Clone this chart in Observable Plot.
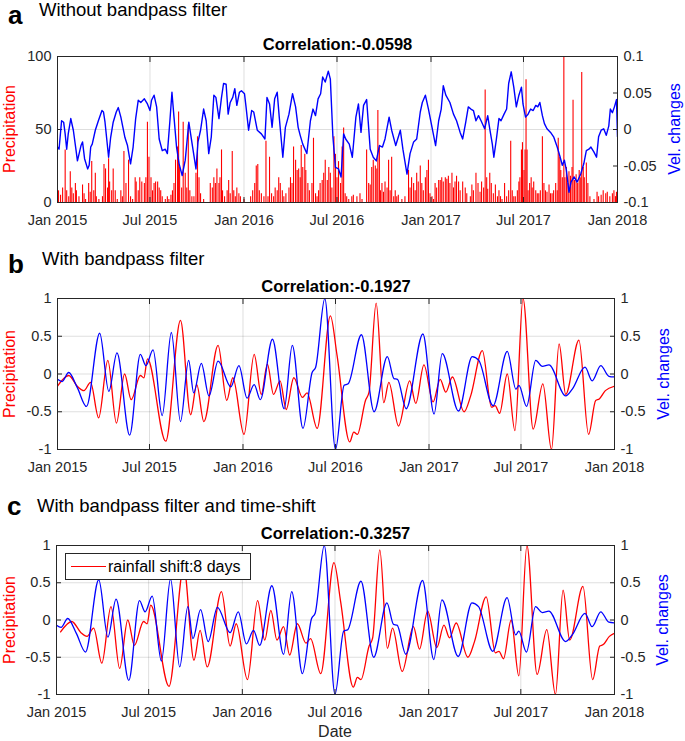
<!DOCTYPE html>
<html><head><meta charset="utf-8">
<script src="https://cdn.jsdelivr.net/npm/d3@7"></script>
<script src="https://cdn.jsdelivr.net/npm/@observablehq/plot@0.6"></script>
<style>
body{margin:0;background:#fff;}
#wrap{position:relative;width:685px;height:741px;overflow:hidden;background:#fff;font-family:"Liberation Sans",Arial,Helvetica,sans-serif;color:#262626;}
.abs{position:absolute;white-space:nowrap;line-height:1;}
.layer{position:absolute;left:0;}
.layer svg{display:block;}
.ylab{position:absolute;font-size:16px;line-height:1;white-space:nowrap;transform:translate(-50%,-50%) rotate(-90deg);}
.legend{position:absolute;background:#fff;border:1px solid #262626;box-sizing:border-box;}
</style></head><body><div id="wrap"></div>
<script>
// ---------- tick labels ----------
const xTickDates = ["2015-01-01","2015-07-01","2016-01-01","2016-07-01","2017-01-01","2017-07-01","2018-01-01"];
const xTickLabels = ["Jan 2015","Jul 2015","Jan 2016","Jul 2016","Jan 2017","Jul 2017","Jan 2018"];
const rainTicksA = [0, 50, 100];
const rainTickLabelsA = ["0", "50", "100"];
const velTicksA = [-0.1, -0.05, 0, 0.05, 0.1];
const velTickLabelsA = ["-0.1", "-0.05", "0", "0.05", "0.1"];
const bpTicks = [-1, -0.5, 0, 0.5, 1];
const bpTickLabels = ["-1", "-0.5", "0", "0.5", "1"];

// ---------- titles ----------
const panelLetters = ["a", "b", "c"];
const panelTitles = ["Without bandpass filter", "With bandpass filter", "With bandpass filter and time-shift"];
const correlations = ["Correlation:-0.0598", "Correlation:-0.1927", "Correlation:-0.3257"];
const rainShiftDays = 8;
const legendText = "rainfall shift:8 days";

// ---------- panel a: daily precipitation (day index since 2015-01-01, mm) ----------
const rainDay = [2,6,10,15,18,22,25,28,31,35,37,42,49,52,55,61,64,67,71,74,76,81,88,91,94,98,100,102,106,109,113,117,124,127,130,134,139,143,147,152,154,158,161,165,170,173,176,179,183,186,189,192,196,199,202,205,211,215,218,222,225,228,231,235,237,239,243,246,250,253,256,259,263,267,271,274,277,280,
286,299,303,306,309,312,316,318,321,323,327,332,335,338,342,345,348,351,355,358,365,378,382,386,389,392,395,399,404,408,412,415,419,423,426,430,433,436,440,443,447,453,456,459,462,466,469,472,475,477,480,484,486,490,493,498,501,505,508,511,514,518,521,524,528,531,534,537,541,544,547,550,554,557,560,
563,566,570,576,579,586,592,596,605,609,612,615,618,622,625,627,630,632,635,638,641,645,648,651,654,658,661,664,667,674,680,687,690,693,697,700,703,706,710,713,716,720,723,726,729,733,736,739,742,746,749,752,755,759,762,765,768,772,775,778,781,785,788,793,798,801,808,811,814,819,823,827,830,834,837,840,
842,846,849,853,857,861,864,867,870,875,879,883,887,890,893,896,900,903,905,908,910,913,915,917,919,921,924,927,929,932,936,939,942,945,949,952,955,958,962,965,968,971,975,978,980,983,985,988,991,993,996,999,1001,1004,1007,1009,1012,1015,1018,1021,1024,1026,1029,1031,1035,1038,1042,1050,1056,1059,1064,1068,1073,1076,1081,1086,1089,1092,1094];
const rainMm = [8,5,10,36,8,4,21,10,6,13,8,4,12,6,2,13,7,28,8,20,4,2,4,26,23,10,30,14,8,23,8,2,8,4,35,13,29,4,2,17,14,8,17,14,13,17,55,31,17,8,13,14,14,10,8,4,2,4,2,5,8,13,29,38,62,24,10,55,20,10,53,8,4,4,20,45,17,6,
2,13,10,17,13,23,13,17,36,8,4,8,15,6,35,8,4,10,6,4,2,4,8,13,25,26,8,6,4,42,4,31,6,4,10,8,17,13,8,4,6,10,17,13,38,29,22,23,17,39,24,33,22,13,8,13,44,6,4,8,13,15,20,29,15,24,20,10,45,33,17,28,13,38,51,
6,4,2,4,5,4,6,2,36,13,12,24,29,25,23,63,38,8,13,7,14,10,29,8,31,4,8,4,5,2,4,22,10,17,13,8,20,14,25,13,8,17,22,29,6,4,2,13,10,15,15,17,14,17,16,18,13,20,10,14,18,14,8,14,10,6,4,12,8,20,13,7,14,10,77,17,
9,20,13,6,12,4,8,4,2,13,4,8,42,8,4,4,8,14,17,36,41,22,36,84,36,8,13,17,10,14,8,6,6,8,45,13,8,7,12,6,6,8,13,8,44,31,22,17,100,17,24,13,21,18,24,70,15,19,13,22,17,89,24,17,27,13,4,2,7,4,5,8,6,7,4,6,8,4,7];

// ---------- panel a: velocity changes (day index, value) ----------
const velDay = [0,3,8,12,15,18,21,26,31,36,39,46,49,53,59,62,65,68,74,80,87,90,93,100,104,109,115,119,124,128,132,137,143,148,153,158,163,170,176,181,184,189,194,199,205,211,215,220,224,228,233,238,244,250,257,264,271,
275,280,286,291,296,301,306,310,316,321,325,330,334,338,343,347,351,356,360,366,369,374,380,384,391,399,406,410,415,420,425,430,434,441,446,453,460,466,471,475,480,488,495,500,505,510,515,519,524,530,534,539,544,550,555,
560,564,571,577,584,589,594,599,605,612,618,624,630,636,641,649,654,662,671,676,684,690,697,703,710,714,720,726,733,740,746,751,755,760,768,775,781,788,793,799,804,809,814,819,824,829,836,842,
846,851,854,859,864,868,874,879,883,888,893,898,903,908,911,916,921,926,931,936,940,944,949,953,958,965,971,978,983,988,992,996,1001,1005,1011,1017,1024,1030,1035,1040,1044,1050,1055,1059,1064,1069,1074,1079,1082,1086,1090,1094,1096];
const velChange = [-0.024,-0.027,0.012,0.010,-0.006,-0.027,-0.006,0.015,-0.001,-0.027,-0.043,-0.022,-0.017,-0.040,-0.054,-0.049,-0.024,-0.020,-0.001,0.012,0.026,0.024,0.010,-0.038,-0.011,0.010,0.024,0.030,0.017,0.003,-0.011,-0.022,-0.047,-0.024,0.015,0.040,0.037,0.042,0.035,0.026,0.040,0.047,0.031,-0.013,-0.029,-0.027,-0.033,0.012,0.051,0.017,-0.024,-0.047,-0.063,-0.042,0.010,-0.022,-0.054,
-0.017,-0.001,0.028,0.012,-0.033,-0.010,0.047,0.044,0.015,0.044,0.063,0.062,0.021,0.037,0.044,0.056,0.033,0.051,0.053,0.049,0.031,-0.001,0.026,0.024,-0.001,-0.006,-0.013,0.044,0.035,0.003,0.042,0.051,0.017,-0.038,0.003,0.021,0.049,0.031,0.003,-0.008,-0.020,-0.033,0.012,0.028,0.019,0.042,0.049,0.072,0.065,0.080,0.069,-0.010,-0.052,-0.054,-0.065,
-0.006,-0.013,-0.020,-0.038,0.017,0.035,-0.004,0.033,0.041,-0.027,-0.038,-0.043,-0.022,-0.024,-0.013,0.017,-0.001,-0.022,-0.001,-0.027,-0.061,-0.033,-0.017,-0.013,0.024,0.037,0.047,0.028,0.003,-0.022,0.012,0.028,0.060,0.047,0.037,0.021,0.012,-0.004,-0.013,0.010,0.031,0.028,0.026,0.012,0.019,0.012,0.001,0.019,
0.001,-0.020,-0.038,-0.013,0.015,0.012,0.021,0.028,0.063,0.079,0.058,0.031,0.047,0.058,0.035,0.017,0.021,0.028,0.026,0.033,0.031,0.037,0.019,0.008,0.001,-0.004,-0.010,-0.024,-0.036,-0.049,-0.042,-0.056,-0.086,-0.072,-0.065,-0.072,-0.061,-0.047,-0.029,-0.027,-0.024,-0.031,-0.038,-0.010,-0.001,0.001,-0.008,0.005,0.028,0.023,0.031,0.041,-0.010];

// ---------- panel b/c: band-pass filtered series (turning points) ----------
const bpRainDay = [0,22,40,52,65,81,99,116,132,145,163,170,177,213,242,262,274,288,316,333,345,367,387,401,413,425,438,450,465,482,491,511,537,550,575,583,590,606,613,627,642,652,671,693,705,721,739,753,764,777,800,813,836,854,861,870,885,900,916,936,955,972,987,1000,1026,1045,1059,1066,1078,1097];
const bpRain = [-0.16,-0.02,-0.17,-0.22,-0.11,-0.58,0.18,-0.65,0.0,-0.34,-0.02,-0.05,0.2,-0.89,0.71,-0.54,-0.14,-0.63,0.38,-0.35,-0.05,-0.8,0.26,-0.27,0.13,-0.27,-0.09,-0.47,-0.05,-0.31,-0.25,-0.72,0.77,0.25,-0.9,-0.77,-0.8,-0.35,-0.24,0.94,-0.38,-0.11,-0.69,-0.09,-0.39,0.12,-0.37,-0.07,-0.24,-0.04,-0.5,-0.29,0.31,-0.44,-0.42,-0.52,0.0,-0.75,1.0,-0.73,-0.13,-1.0,0.4,-0.27,0.45,-0.8,-0.35,-0.33,-0.22,-0.16];
const bpVelDay = [0,9,22,39,57,83,101,117,142,163,174,188,206,224,242,258,268,283,298,316,341,357,373,387,399,423,446,462,483,501,508,526,547,564,572,598,623,649,662,669,686,719,741,757,789,816,829,857,885,902,908,923,941,954,967,1000,1013,1038,1052,1069,1085,1097];
const bpVel = [-0.07,-0.1,0.02,-0.18,-0.43,0.54,-0.23,0.28,-0.81,0.26,0.11,0.32,-0.55,0.55,-0.63,0.18,-0.25,0.14,-0.29,0.17,-0.17,0.11,-0.32,-0.14,-0.34,0.46,-0.46,0.38,-0.72,0.02,0.09,1.0,-1.0,-0.15,-0.13,0.52,-0.5,0.23,-0.06,-0.07,-0.46,0.53,-0.53,0.27,-0.49,0.23,0.18,-0.42,0.3,-0.2,-0.15,-0.43,0.18,0.1,0.12,-0.29,-0.2,0.09,-0.09,0.11,-0.03,-0.04];

// ---------- helpers ----------
const day0 = Date.UTC(2015, 0, 1);
const toDate = d => new Date(day0 + d * 864e5);
const xDomain = [new Date(xTickDates[0]), new Date(xTickDates[xTickDates.length - 1])];
const xTicks = xTickDates.map(s => new Date(s));
const xFmt = d => xTickLabels[xTicks.findIndex(t => +t === +d)];
const fmtFrom = (ticks, labels) => d => labels[ticks.indexOf(d)];

const RED = "#ff0000", BLUE = "#0000ff", INK = "#262626";
const FONT = '"Liberation Sans", Arial, Helvetica, sans-serif';
const TICKFS = 14.5;
const wrap = document.getElementById("wrap");

const rain = rainDay.map((d, i) => ({date: toDate(d), mm: rainMm[i]}));
const vel = velDay.map((d, i) => ({date: toDate(d), v: velChange[i]}));
const bpR = bpRainDay.map((d, i) => ({date: toDate(d), v: bpRain[i]}));
const bpRshift = bpRainDay.map((d, i) => ({date: toDate(d + rainShiftDays), v: bpRain[i]}));
const bpV = bpVelDay.map((d, i) => ({date: toDate(d), v: bpVel[i]}));

function addLayer(svg, top) {
  const d = document.createElement("div");
  d.className = "layer";
  d.style.top = top + "px";
  d.appendChild(svg);
  wrap.appendChild(d);
}
function addText(txt, left, baseline, size, opts = {}) {
  const d = document.createElement("div");
  d.className = "abs";
  d.textContent = txt;
  d.style.fontSize = size + "px";
  d.style.left = left + "px";
  d.style.top = (baseline - 0.8465 * size) + "px";
  if (opts.bold) d.style.fontWeight = "bold";
  d.style.color = opts.color || "#000";
  if (opts.center) d.style.transform = "translateX(-50%)";
  wrap.appendChild(d);
}
function addYLabel(txt, cx, cy, color) {
  const d = document.createElement("div");
  d.className = "ylab";
  d.textContent = txt;
  d.style.left = cx + "px";
  d.style.top = cy + "px";
  d.style.color = color;
  wrap.appendChild(d);
}

function xAxisMarks() {
  return [
    Plot.axisX(xTicks, {anchor: "bottom", tickSize: 0, tickPadding: 12, tickFormat: xFmt, fontSize: TICKFS, fill: INK, label: null}),
    Plot.axisX(xTicks, {anchor: "bottom", fill: "none", stroke: INK, tickSize: 5, insetBottom: 5, label: null}),
    Plot.axisX(xTicks, {anchor: "top", fill: "none", stroke: INK, tickSize: 5, insetTop: 5, label: null})
  ];
}
function yAxisMarks(ticks, labels, anchor) {
  const inset = anchor === "left" ? {insetLeft: 5} : {insetRight: 5};
  return [
    Plot.axisY(ticks, {anchor, tickSize: 0, tickPadding: 6, tickFormat: fmtFrom(ticks, labels), fontSize: TICKFS, fill: INK, label: null}),
    Plot.axisY(ticks, {anchor, fill: "none", stroke: INK, tickSize: 5, ...inset, label: null})
  ];
}
const gridStyle = {stroke: "#000", strokeOpacity: 0.13};

// ---------- panel a ----------
{
  const top = 30, H = 200;
  const common = {width: 685, height: H, marginLeft: 57, marginRight: 68, marginTop: 26, marginBottom: 28,
    style: {fontFamily: FONT, background: "transparent", overflow: "visible"}};
  const p1 = Plot.plot({
    ...common,
    x: {type: "utc", domain: xDomain},
    y: {domain: [0, 100]},
    marks: [
      Plot.gridX(xTicks, gridStyle),
      Plot.gridY(rainTicksA, gridStyle),
      Plot.ruleX(rain, {x: "date", y1: 0, y2: "mm", stroke: RED, strokeWidth: 1.1}),
      ...xAxisMarks(),
      ...yAxisMarks(rainTicksA, rainTickLabelsA, "left"),
      Plot.text([correlations[0]], {frameAnchor: "top", dy: -7, lineAnchor: "bottom", fontWeight: "bold", fontSize: 16.5, fill: "#000"})
    ]
  });
  const p2 = Plot.plot({
    ...common,
    x: {type: "utc", domain: xDomain, axis: null},
    y: {domain: [-0.1, 0.1]},
    marks: [
      Plot.line(vel, {x: "date", y: "v", stroke: BLUE, strokeWidth: 1.4, clip: true}),
      ...yAxisMarks(velTicksA, velTickLabelsA, "right"),
      Plot.frame({stroke: INK})
    ]
  });
  addLayer(p1, top);
  addLayer(p2, top);
  addText(panelLetters[0], 8, 24, 26, {bold: true});
  addText(panelTitles[0], 39, 16.5, 18.5);
  addYLabel("Precipitation", 10, 129, RED);
  addYLabel("Vel. changes", 675, 129, BLUE);
}

function bandPanel(top, H, mTop, mBottom, mLeft, redData, corr) {
  return Plot.plot({
    width: 685, height: H, marginLeft: mLeft, marginRight: 71, marginTop: mTop, marginBottom: mBottom,
    x: {type: "utc", domain: xDomain},
    y: {domain: [-1, 1]},
    style: {fontFamily: FONT, background: "transparent", overflow: "visible"},
    marks: [
      Plot.gridX(xTicks, gridStyle),
      Plot.gridY(bpTicks, gridStyle),
      Plot.line(redData, {x: "date", y: "v", stroke: RED, strokeWidth: 1.3, curve: "monotone-x", clip: true}),
      Plot.line(bpV, {x: "date", y: "v", stroke: BLUE, strokeWidth: 1.3, curve: "monotone-x", clip: true}),
      Plot.frame({stroke: INK}),
      ...xAxisMarks(),
      ...yAxisMarks(bpTicks, bpTickLabels, "left"),
      ...yAxisMarks(bpTicks, bpTickLabels, "right"),
      Plot.text([corr], {frameAnchor: "top", dy: -7, lineAnchor: "bottom", fontWeight: "bold", fontSize: 16.5, fill: "#000"})
    ]
  });
}

// ---------- panel b ----------
{
  const top = 272;
  addLayer(bandPanel(top, 206, 26, 29, 57, bpR, correlations[1]), top);
  addText(panelLetters[1], 8, 273, 26, {bold: true});
  addText(panelTitles[1], 42, 266, 18.5);
  addYLabel("Precipitation", 10, 373.5, RED);
  addYLabel("Vel. changes", 663.5, 373.5, BLUE);
}

// ---------- panel c ----------
{
  const top = 519;
  addLayer(bandPanel(top, 205, 26, 30, 56, bpRshift, correlations[2]), top);
  addText(panelLetters[2], 7, 515, 26, {bold: true});
  addText(panelTitles[2], 37, 513, 18.5);
  addYLabel("Precipitation", 10, 619.5, RED);
  addYLabel("Vel. changes", 663, 619.5, BLUE);
  addText("Date", 335, 738, 16, {center: true, color: INK});
  // legend
  const lg = document.createElement("div");
  lg.className = "legend";
  lg.style.left = "65px"; lg.style.top = "553px"; lg.style.width = "186px"; lg.style.height = "27px";
  const ln = document.createElement("div");
  ln.style.cssText = "position:absolute;left:5px;top:12px;width:35px;height:0;border-top:1.4px solid " + RED + ";";
  lg.appendChild(ln);
  const tx = document.createElement("div");
  tx.className = "abs";
  tx.textContent = legendText;
  tx.style.cssText += "left:42px;font-size:16px;color:#000;top:" + (19 - 0.8465 * 16) + "px;";
  lg.appendChild(tx);
  wrap.appendChild(lg);
}
</script></body></html>
